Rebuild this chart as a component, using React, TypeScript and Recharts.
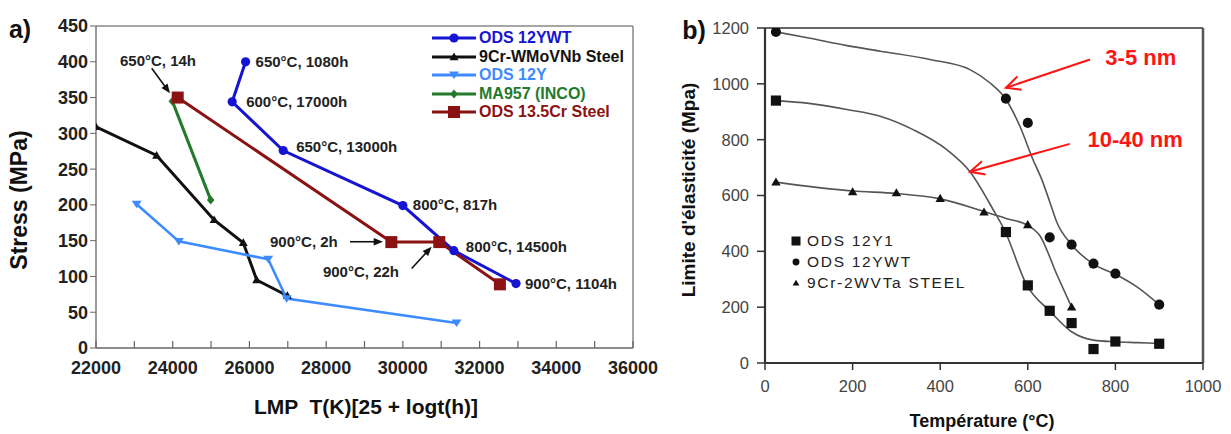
import React from "react";
import {
  ComposedChart,
  Line,
  Scatter,
  XAxis,
  YAxis,
  ReferenceLine,
  ReferenceDot,
  Legend,
} from "recharts";

const FONT = "'Liberation Sans', Arial, Helvetica, sans-serif";

// ---------- panel a: Larson-Miller parameter vs stress ----------
const lmpTicks = [
  22000, 23000, 24000, 25000, 26000, 27000, 28000, 29000, 30000, 31000, 32000,
  33000, 34000, 35000, 36000,
];
const stressTicks = [0, 50, 100, 150, 200, 250, 300, 350, 400, 450];

const ods12ywt = [
  { lmp: 25900, stress: 400 },
  { lmp: 25550, stress: 344 },
  { lmp: 26880, stress: 276 },
  { lmp: 30000, stress: 199 },
  { lmp: 31330, stress: 136 },
  { lmp: 32950, stress: 90 },
];
const steel9cr = [
  { lmp: 22000, stress: 309 },
  { lmp: 23580, stress: 269 },
  { lmp: 25080, stress: 179 },
  { lmp: 25840, stress: 147 },
  { lmp: 26190, stress: 95 },
  { lmp: 26990, stress: 73 },
];
const ods12y = [
  { lmp: 23060, stress: 201 },
  { lmp: 24160, stress: 149 },
  { lmp: 26490, stress: 124 },
  { lmp: 26970, stress: 69 },
  { lmp: 31400, stress: 35 },
];
const ma957 = [
  { lmp: 23990, stress: 345 },
  { lmp: 24990, stress: 207 },
];
const ods135cr = [
  { lmp: 24130, stress: 350 },
  { lmp: 29700, stress: 148 },
  { lmp: 30950, stress: 148 },
  { lmp: 32530, stress: 89 },
];

const seriesA = [
  { name: "ODS 12YWT", color: "#1414d2", mark: "circle", width: 3, data: ods12ywt },
  { name: "9Cr-WMoVNb Steel", color: "#111111", mark: "tri", width: 3, data: steel9cr },
  { name: "ODS 12Y", color: "#3d8bff", mark: "triDown", width: 2.6, data: ods12y },
  { name: "MA957 (INCO)", color: "#237a2c", mark: "diamond", width: 3, data: ma957 },
  { name: "ODS 13.5Cr Steel", color: "#8a1212", mark: "square", width: 3, data: ods135cr },
];

// ---------- panel b: yield strength vs temperature ----------
const tempTicks = [0, 200, 400, 600, 800, 1000];
const yieldTicks = [0, 200, 400, 600, 800, 1000, 1200];

const pts12y1 = [
  { t: 25, mpa: 940 },
  { t: 550, mpa: 469 },
  { t: 600, mpa: 278 },
  { t: 650, mpa: 187 },
  { t: 700, mpa: 143 },
  { t: 750, mpa: 50 },
  { t: 800, mpa: 77 },
  { t: 900, mpa: 69 },
];
const pts12ywt = [
  { t: 25, mpa: 1186 },
  { t: 550, mpa: 947 },
  { t: 600, mpa: 860 },
  { t: 650, mpa: 450 },
  { t: 700, mpa: 424 },
  { t: 750, mpa: 356 },
  { t: 800, mpa: 320 },
  { t: 900, mpa: 209 },
];
const pts9cr = [
  { t: 25, mpa: 648 },
  { t: 200, mpa: 613 },
  { t: 300, mpa: 609 },
  { t: 400, mpa: 589 },
  { t: 500, mpa: 540 },
  { t: 600, mpa: 495 },
  { t: 700, mpa: 200 },
];

// fitted curves as drawn in the figure
const fit12ywt = [
  { t: 25, mpa: 1186 },
  { t: 100, mpa: 1164 },
  { t: 187, mpa: 1137 },
  { t: 263, mpa: 1117 },
  { t: 377, mpa: 1087 },
  { t: 468, mpa: 1051 },
  { t: 514, mpa: 1003 },
  { t: 548, mpa: 949 },
  { t: 582, mpa: 848 },
  { t: 612, mpa: 728 },
  { t: 632, mpa: 657 },
  { t: 650, mpa: 578 },
  { t: 666, mpa: 505 },
  { t: 700, mpa: 424 },
  { t: 750, mpa: 354 },
  { t: 800, mpa: 318 },
  { t: 850, mpa: 272 },
  { t: 900, mpa: 209 },
];
const fit12y1 = [
  { t: 25, mpa: 940 },
  { t: 100, mpa: 930 },
  { t: 187, mpa: 908 },
  { t: 263, mpa: 884 },
  { t: 338, mpa: 836 },
  { t: 415, mpa: 764 },
  { t: 468, mpa: 685 },
  { t: 521, mpa: 549 },
  { t: 548, mpa: 472 },
  { t: 597, mpa: 281 },
  { t: 651, mpa: 185 },
  { t: 700, mpa: 112 },
  { t: 750, mpa: 82 },
  { t: 800, mpa: 76 },
  { t: 850, mpa: 73 },
  { t: 900, mpa: 70 },
];
const fit9cr = [
  { t: 25, mpa: 648 },
  { t: 200, mpa: 616 },
  { t: 300, mpa: 607 },
  { t: 400, mpa: 588 },
  { t: 500, mpa: 543 },
  { t: 550, mpa: 518 },
  { t: 600, mpa: 493 },
  { t: 628, mpa: 455 },
  { t: 666, mpa: 318 },
  { t: 700, mpa: 200 },
];

const seriesB = [
  { name: "ODS 12Y1", mark: "square", points: pts12y1, fit: fit12y1 },
  { name: "ODS 12YWT", mark: "circle", points: pts12ywt, fit: fit12ywt },
  { name: "9Cr-2WVTa STEEL", mark: "tri", points: pts9cr, fit: fit9cr },
];

// ---------- marks ----------
const drawMark = (kind: string, cx: number, cy: number, color: string, s = 1, key?: React.Key) => {
  switch (kind) {
    case "circle":
      return <circle key={key} cx={cx} cy={cy} r={4.6 * s} fill={color} />;
    case "tri":
      return (
        <path
          key={key}
          d={`M${cx},${cy - 4.5 * s}L${cx + 4.5 * s},${cy + 3.2 * s}L${cx - 4.5 * s},${cy + 3.2 * s}Z`}
          fill={color}
        />
      );
    case "triDown":
      return (
        <path
          key={key}
          d={`M${cx},${cy + 4 * s}L${cx + 5 * s},${cy - 3.5 * s}L${cx - 5 * s},${cy - 3.5 * s}Z`}
          fill={color}
        />
      );
    case "diamond":
      return (
        <path
          key={key}
          d={`M${cx},${cy - 4.5 * s}L${cx + 3.8 * s},${cy}L${cx},${cy + 4.5 * s}L${cx - 3.8 * s},${cy}Z`}
          fill={color}
        />
      );
    default:
      return (
        <rect key={key} x={cx - 6 * s} y={cy - 6 * s} width={12 * s} height={12 * s} fill={color} />
      );
  }
};

const markDot = (kind: string, color: string) => (p: any) =>
  drawMark(kind, p.cx, p.cy, color, 1, p.index);

const bMarkSize: Record<string, number> = { square: 0.85, circle: 1.1, tri: 1.05 };
const scatterShape = (kind: string) => (p: any) =>
  drawMark(kind, p.cx, p.cy, "#111", bMarkSize[kind]);

// arrows drawn on top of a ReferenceLine segment
const arrowShape = (color: string, width: number, head: number, open: boolean) => (p: any) => {
  const { x1, y1, x2, y2 } = p;
  const a = Math.atan2(y2 - y1, x2 - x1);
  const spread = open ? 0.45 : 0.38;
  const ax = x2 - head * Math.cos(a - spread);
  const ay = y2 - head * Math.sin(a - spread);
  const bx = x2 - head * Math.cos(a + spread);
  const by = y2 - head * Math.sin(a + spread);
  const ex = open ? x2 : x2 - head * 0.8 * Math.cos(a);
  const ey = open ? y2 : y2 - head * 0.8 * Math.sin(a);
  return (
    <g>
      <line x1={x1} y1={y1} x2={ex} y2={ey} stroke={color} strokeWidth={width} />
      {open ? (
        <polyline
          points={`${ax},${ay} ${x2},${y2} ${bx},${by}`}
          fill="none"
          stroke={color}
          strokeWidth={width}
        />
      ) : (
        <polygon points={`${ax},${ay} ${x2},${y2} ${bx},${by}`} fill={color} />
      )}
    </g>
  );
};

const LmpTick = (p: any) => {
  const { x, y, payload } = p;
  const v = payload.value as number;
  return (
    <g>
      <line x1={x} x2={x} y1={y} y2={y - 7} stroke="#666" strokeWidth={1.2} />
      {v % 2000 === 0 ? (
        <text
          x={x}
          y={y + 26}
          textAnchor="middle"
          fill="#222"
          fontSize={18}
          fontWeight={700}
          fontFamily={FONT}
        >
          {v}
        </text>
      ) : null}
    </g>
  );
};

const LegendA = () => (
  <div style={{ fontFamily: FONT, fontWeight: 700, fontSize: 16 }}>
    {seriesA.map((s) => (
      <div key={s.name} style={{ display: "flex", alignItems: "center", height: 18.5 }}>
        <svg width={46} height={14} style={{ flex: "none" }}>
          <line x1={1} x2={45} y1={7} y2={7} stroke={s.color} strokeWidth={3} />
          {drawMark(s.mark, 23, 7, s.color)}
        </svg>
        <span style={{ color: s.color, marginLeft: 2, whiteSpace: "nowrap" }}>{s.name}</span>
      </div>
    ))}
  </div>
);

const LegendB = () => (
  <div style={{ fontFamily: FONT, fontSize: 15.5, color: "#222", letterSpacing: 1.7 }}>
    {seriesB.map((s) => (
      <div key={s.name} style={{ display: "flex", alignItems: "center", height: 20.7 }}>
        <svg width={12} height={14} style={{ flex: "none" }}>
          {drawMark(s.mark, 6, 7, "#111", 0.75)}
        </svg>
        <span style={{ marginLeft: 5, whiteSpace: "nowrap" }}>{s.name}</span>
      </div>
    ))}
  </div>
);

const noteA = { fill: "#222", fontSize: 15, fontWeight: 700, fontFamily: FONT };
const noteB = { fill: "#ff1414", fontSize: 22, fontWeight: 700, fontFamily: FONT };

const title = (
  text: string,
  cx: number,
  cy: number,
  size: number,
  rotate = false,
): React.ReactNode => (
  <div
    style={{
      position: "absolute",
      left: cx,
      top: cy,
      transform: `translate(-50%, -50%)${rotate ? " rotate(-90deg)" : ""}`,
      fontFamily: FONT,
      fontWeight: 700,
      fontSize: size,
      color: "#111",
      whiteSpace: "pre",
    }}
  >
    {text}
  </div>
);

export default function App() {
  return (
    <div
      style={{
        position: "fixed",
        left: 0,
        top: 0,
        width: 1231,
        height: 434,
        background: "#fff",
        overflow: "hidden",
      }}
    >
      {/* panel a */}
      <div style={{ position: "absolute", left: 0, top: 0 }}>
        <ComposedChart width={660} height={434} margin={{ top: 26, right: 27, left: 36, bottom: 56 }}>
          <XAxis
            type="number"
            dataKey="lmp"
            domain={[22000, 36000]}
            ticks={lmpTicks}
            interval={0}
            tick={LmpTick}
            tickLine={false}
            tickSize={0}
            tickMargin={0}
            height={30}
            axisLine={{ stroke: "#666", strokeWidth: 1.3 }}
            allowDataOverflow
          />
          <YAxis
            type="number"
            domain={[0, 450]}
            ticks={stressTicks}
            interval={0}
            width={60}
            tickSize={6}
            tickMargin={2}
            axisLine={{ stroke: "#666", strokeWidth: 1.3 }}
            tickLine={{ stroke: "#666" }}
            tick={{ fill: "#222", fontSize: 18, fontWeight: 700, fontFamily: FONT }}
            allowDataOverflow
          />
          <ReferenceLine y={450} stroke="#888" strokeWidth={1.5} />
          <ReferenceLine x={36000} stroke="#888" strokeWidth={1.5} />

          {seriesA.map((s) => (
            <Line
              key={s.name}
              name={s.name}
              data={s.data}
              dataKey="stress"
              type="linear"
              stroke={s.color}
              strokeWidth={s.width}
              dot={markDot(s.mark, s.color)}
              activeDot={false}
              isAnimationActive={false}
            />
          ))}

          {/* point notes */}
          <ReferenceDot x={25900} y={400} r={0} label={{ value: "650°C, 1080h", position: "right", offset: 10, ...noteA }} />
          <ReferenceDot x={25550} y={344} r={0} label={{ value: "600°C, 17000h", position: "right", offset: 14, ...noteA }} />
          <ReferenceDot x={26880} y={276} r={0} label={{ value: "650°C, 13000h", position: "right", offset: 13, dy: -4, ...noteA }} />
          <ReferenceDot x={30000} y={199} r={0} label={{ value: "800°C, 817h", position: "right", offset: 10, dy: -1, ...noteA }} />
          <ReferenceDot x={31330} y={136} r={0} label={{ value: "800°C, 14500h", position: "right", offset: 12, dy: -4, ...noteA }} />
          <ReferenceDot x={32950} y={90} r={0} label={{ value: "900°C, 1104h", position: "right", offset: 9, ...noteA }} />
          <ReferenceDot x={23616} y={402} r={0} label={{ value: "650°C, 14h", position: "center", ...noteA }} />
          <ReferenceDot x={27420} y={148.5} r={0} label={{ value: "900°C, 2h", position: "center", ...noteA }} />
          <ReferenceDot x={28908} y={106.6} r={0} label={{ value: "900°C, 22h", position: "center", ...noteA }} />

          <ReferenceLine
            segment={[{ x: 23452, y: 391 }, { x: 23929, y: 356 }]}
            shape={arrowShape("#111", 1.6, 10, false)}
          />
          <ReferenceLine
            segment={[{ x: 28622, y: 148.5 }, { x: 29482, y: 148.5 }]}
            shape={arrowShape("#111", 1.6, 10, false)}
          />
          <ReferenceLine
            segment={[{ x: 30230, y: 111 }, { x: 30751, y: 141.6 }]}
            shape={arrowShape("#111", 1.6, 10, false)}
          />

          <Legend
            layout="vertical"
            align="center"
            verticalAlign="middle"
            content={LegendA}
            wrapperStyle={{ left: 431, top: 29, width: 220 }}
          />
        </ComposedChart>
      </div>

      {/* panel b */}
      <div style={{ position: "absolute", left: 660, top: 0 }}>
        <ComposedChart width={571} height={434} margin={{ top: 28, right: 28, left: 45, bottom: 41 }}>
          <XAxis
            type="number"
            dataKey="t"
            domain={[0, 1000]}
            ticks={tempTicks}
            interval={0}
            height={30}
            tickSize={7}
            tickMargin={10}
            axisLine={{ stroke: "#333", strokeWidth: 2.2 }}
            tickLine={{ stroke: "#333", strokeWidth: 1.5 }}
            tick={{ fill: "#444", fontSize: 16.5, fontFamily: FONT }}
            allowDataOverflow
          />
          <YAxis
            type="number"
            dataKey="mpa"
            domain={[0, 1200]}
            ticks={yieldTicks}
            interval={0}
            width={60}
            tickSize={8}
            tickMargin={8}
            axisLine={{ stroke: "#333", strokeWidth: 2.2 }}
            tickLine={{ stroke: "#333", strokeWidth: 1.5 }}
            tick={{ fill: "#444", fontSize: 16.5, fontFamily: FONT }}
            allowDataOverflow
          />
          <ReferenceLine y={1200} stroke="#666" strokeWidth={2} />
          <ReferenceLine x={1000} stroke="#555" strokeWidth={2.5} />

          {seriesB.map((s) => (
            <Line
              key={s.name + "-fit"}
              data={s.fit}
              dataKey="mpa"
              type="monotone"
              stroke="#555"
              strokeWidth={1.6}
              dot={false}
              activeDot={false}
              legendType="none"
              isAnimationActive={false}
            />
          ))}
          {seriesB.map((s) => (
            <Scatter
              key={s.name}
              name={s.name}
              data={s.points}
              shape={scatterShape(s.mark)}
              isAnimationActive={false}
            />
          ))}

          <ReferenceDot x={858} y={1094} r={0} label={{ value: "3-5 nm", position: "center", ...noteB }} />
          <ReferenceDot x={845} y={803} r={0} label={{ value: "10-40 nm", position: "center", ...noteB }} />
          <ReferenceLine
            segment={[{ x: 742, y: 1087 }, { x: 550, y: 986 }]}
            shape={arrowShape("#ff1414", 2, 16, true)}
          />
          <ReferenceLine
            segment={[{ x: 696, y: 785 }, { x: 468, y: 685 }]}
            shape={arrowShape("#ff1414", 2, 16, true)}
          />

          <Legend
            layout="vertical"
            align="center"
            verticalAlign="middle"
            content={LegendB}
            wrapperStyle={{ left: 130, top: 231, width: 220 }}
          />
        </ComposedChart>
      </div>

      {title("a)", 20, 29, 25)}
      {title("b)", 694, 30, 25)}
      {title("Stress (MPa)", 19, 200, 23, true)}
      {title("LMP  T(K)[25 + logt(h)]", 366, 407, 21)}
      {title("Limite d'élasticité (Mpa)", 689, 190, 19, true)}
      {title("Température (°C)", 982, 421, 18)}
    </div>
  );
}
